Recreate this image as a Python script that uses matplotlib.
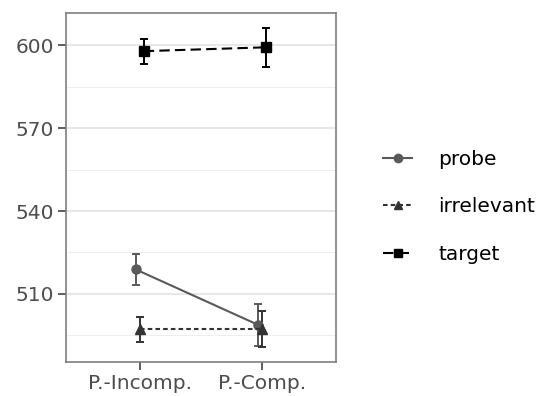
import matplotlib
matplotlib.use("Agg")
import matplotlib.pyplot as plt
import numpy as np
from matplotlib.lines import Line2D

plt.rcParams['font.family'] = ['DejaVu Sans']

categories = ["P.-Incomp.", "P.-Comp."]
series = ["probe", "irrelevant", "target"]
means = {
    "probe": [518.9, 498.8],
    "irrelevant": [497.2, 497.2],
    "target": [597.8, 599.2],
}
errors = {
    "probe": [5.7, 7.5],
    "irrelevant": [4.4, 6.5],
    "target": [4.5, 7.0],
}
colors = {"probe": "#595959", "irrelevant": "#333333", "target": "#000000"}
linestyles = {"probe": "-", "irrelevant": (0, (2.2, 1.5)), "target": (0, (5, 2.5))}
markers = {"probe": "o", "irrelevant": "^", "target": "s"}
offsets = {"probe": -0.033, "irrelevant": 0.0, "target": 0.033}

fig = plt.figure(figsize=(5.39, 3.96), dpi=100)
ax = fig.add_axes([66/539, 1 - 362/396, 270/539, 349/396])

x = np.arange(1, len(categories) + 1)
for s in series:
    xs = x + offsets[s]
    ax.errorbar(xs, means[s], yerr=errors[s], color=colors[s], linestyle=linestyles[s],
                marker=markers[s], markersize=6.5, linewidth=1.5, elinewidth=1.4,
                capsize=3, capthick=1.4, zorder=3)

ax.set_xlim(0.4, 2.6)
ax.set_ylim(485.4, 611.6)
ax.set_xticks(x)
ax.set_xticklabels(categories)
ax.set_yticks([510, 540, 570, 600])
ax.set_yticks([495, 525, 555, 585], minor=True)
ax.grid(True, which="major", axis="y", color="#e0e0e0", linewidth=1.1, zorder=0)
ax.grid(True, which="minor", axis="y", color="#eeeeee", linewidth=0.7, zorder=0)
ax.tick_params(which="minor", length=0)
ax.tick_params(which="major", length=5.5, width=1.1, color="#333333",
               labelsize=14.5, labelcolor="#4d4d4d", pad=3)
for sp in ax.spines.values():
    sp.set_color("#7f7f7f")
    sp.set_linewidth(1.2)
ax.set_axisbelow(True)

handles = [Line2D([0], [0], color=colors[s], linestyle=linestyles[s], marker=markers[s],
                  markersize=6, linewidth=1.5) for s in series]
fig.legend(handles, series, loc="center left", bbox_to_anchor=(383/539, 1 - 207/396),
           frameon=False, fontsize=14.5, handlelength=1.45, labelspacing=1.4, handletextpad=1.3,
           borderpad=0, borderaxespad=0)

fig.savefig("out.png", dpi=100)
